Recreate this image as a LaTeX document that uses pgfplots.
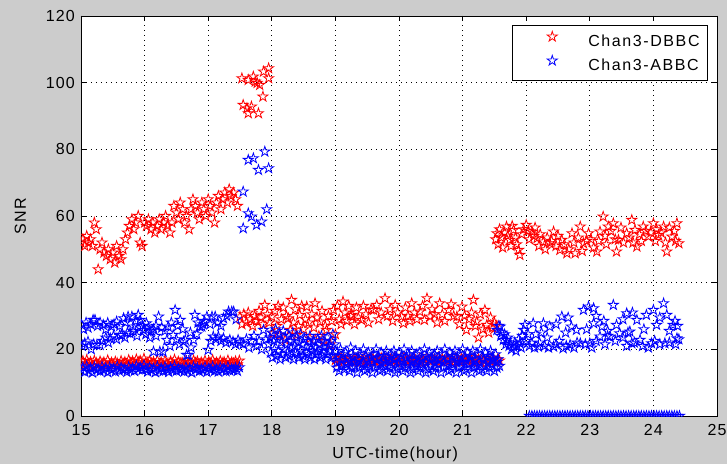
\documentclass[border=0pt]{standalone}
\usepackage{fontspec}
\setmainfont{Liberation Sans}
\newfontfamily\mf[LetterSpace=7]{Liberation Sans}
\newfontfamily\lf[LetterSpace=10]{Liberation Sans}
\newcommand\mfs{\mf\fontsize{16bp}{19bp}\selectfont}
\newcommand\lfs{\lf\fontsize{16bp}{19bp}\selectfont}
\usepackage{pgfplots}
\pgfplotsset{compat=1.18}
\definecolor{figgray}{RGB}{204,204,204}
\pgfdeclareplotmark{pent}{%
  \pgfpathmoveto{\pgfpointpolar{90}{\pgfplotmarksize}}%
  \pgfpathlineto{\pgfpointpolar{126}{0.382*\pgfplotmarksize}}%
  \pgfpathlineto{\pgfpointpolar{162}{\pgfplotmarksize}}%
  \pgfpathlineto{\pgfpointpolar{198}{0.382*\pgfplotmarksize}}%
  \pgfpathlineto{\pgfpointpolar{234}{\pgfplotmarksize}}%
  \pgfpathlineto{\pgfpointpolar{270}{0.382*\pgfplotmarksize}}%
  \pgfpathlineto{\pgfpointpolar{306}{\pgfplotmarksize}}%
  \pgfpathlineto{\pgfpointpolar{342}{0.382*\pgfplotmarksize}}%
  \pgfpathlineto{\pgfpointpolar{18}{\pgfplotmarksize}}%
  \pgfpathlineto{\pgfpointpolar{54}{0.382*\pgfplotmarksize}}%
  \pgfpathclose
  \pgfusepathqstroke
}
\pgfplotsset{
  legimg/.style={legend image code/.code={%
    \path[draw=none,fill=none] (0bp,-2bp) rectangle (68bp,10bp);
    \draw[##1] plot coordinates {(32bp,5.7bp)};}},
}
\begin{document}
\begin{tikzpicture}
\fill[figgray] (-81bp,-48bp) rectangle (646bp,416bp);
\begin{axis}[
  at={(0,0)}, anchor=south west,
  scale only axis, width=636bp, height=400bp,
  xmin=15, xmax=25, ymin=0, ymax=120,
  xtick={15,16,...,25}, ytick={0,20,...,120},
  axis background/.style={fill=white},
  axis line style={black, line width=0.8bp},
  grid=major,
  major grid style={black, line width=0.9bp, dash pattern=on 0.9bp off 4.1bp},
  tick align=inside, tick pos=both, major tick length=5bp,
  every tick/.style={black, line width=0.8bp},
  /pgf/number format/assume math mode=true,
  tick label style={font=\mfs, black},
  xticklabel style={anchor=base, inner sep=0pt, yshift=-19bp},
  yticklabel style={anchor=east, inner sep=0pt, xshift=-6bp},
  every axis x label/.style={at={(axis description cs:0.494,0)}, anchor=base, yshift=-42bp, font=\mfs, black},
  every axis y label/.style={at={(axis description cs:-0.0865,0.5)}, rotate=90, anchor=base, font=\mfs, black},
  xlabel={UTC-time(hour)}, ylabel={SNR},
  clip marker paths=true,
  legend style={at={(1,1)}, anchor=north east, xshift=-9bp, yshift=-9bp,
    draw=black, line width=0.8bp, fill=white, font=\lfs,
    inner xsep=8bp, inner ysep=6bp, row sep=5bp, column sep=0bp,
    nodes={inner sep=0pt, text height=12bp, text depth=4bp}},
  legend cell align=left,
]
\addplot[only marks, mark=pent, mark size=5.3bp, color=red, mark options={line width=0.8bp}, legimg] coordinates {
(15.00,52)(15.03,53)(15.06,51)(15.09,54)(15.12,52)(15.15,53)(15.18,51)(15.21,58)(15.24,56)(15.27,44)(15.30,50)(15.33,52)(15.36,49)(15.40,48)(15.43,50)(15.46,47)(15.50,49)(15.53,46)(15.56,51)(15.60,48)(15.63,47)(15.66,50)(15.70,53)(15.73,55)(15.76,57)(15.80,59)(15.83,56)(15.86,58)(15.90,60)(15.93,52)(15.96,51)(16.00,58)(16.03,57)(16.06,59)(16.10,56)(16.13,58)(16.16,55)(16.20,57)(16.23,59)(16.26,56)(16.30,58)(16.33,60)(16.36,57)(16.40,55)(16.43,58)(16.46,63)(16.50,61)(16.53,59)(16.56,64)(16.60,62)(16.63,58)(16.66,60)(16.70,56)(16.73,62)(16.76,65)(16.80,63)(16.83,61)(16.86,59)(16.90,64)(16.93,62)(16.96,60)(17.00,65)(17.03,63)(17.06,61)(17.10,58)(17.13,64)(17.16,66)(17.20,62)(17.23,65)(17.26,67)(17.30,64)(17.33,68)(17.36,66)(17.40,67)(17.43,65)(17.46,63)
(15.00,15.8)(15.03,16.5)(15.06,15.2)(15.09,16.8)(15.12,15.6)(15.15,16.2)(15.18,15.0)(15.21,16.6)(15.24,15.9)(15.27,15.3)(15.30,16.4)(15.33,15.7)(15.36,16.1)(15.39,15.2)(15.42,16.7)(15.45,15.5)(15.48,16.0)(15.51,15.4)(15.54,16.3)(15.57,15.8)(15.60,15.1)(15.63,16.5)(15.66,15.6)(15.69,16.2)(15.72,15.3)(15.75,16.8)(15.78,15.9)(15.81,16.4)(15.84,15.5)(15.87,17.0)(15.90,16.1)(15.93,16.6)(15.96,15.7)(15.99,17.2)(16.02,16.0)(16.05,15.4)(16.08,16.5)(16.11,15.8)(16.14,16.2)(16.17,15.3)(16.20,16.7)(16.23,15.6)(16.26,16.1)(16.29,15.4)(16.32,16.6)(16.35,15.9)(16.38,15.2)(16.41,16.4)(16.44,15.7)(16.47,16.9)(16.50,15.5)(16.53,16.3)(16.56,15.8)(16.59,16.0)(16.62,15.3)(16.65,16.5)(16.68,15.6)(16.71,16.2)(16.74,15.1)(16.77,16.7)(16.80,15.9)(16.83,16.4)(16.86,15.4)(16.89,16.1)(16.92,15.7)(16.95,16.6)(16.98,15.2)(17.01,16.3)(17.04,15.8)(17.07,16.8)(17.10,15.5)(17.13,16.0)(17.16,15.3)(17.19,16.5)(17.22,15.9)(17.25,16.2)(17.28,15.4)(17.31,16.7)(17.34,15.6)(17.37,16.1)(17.40,15.8)(17.43,16.4)(17.46,15.5)(17.49,16.6)
(17.53,101.3)(17.63,100.8)(17.74,100.3)(17.81,99.3)(17.87,103.3)(17.95,104.3)(17.95,101.3)(17.55,93.3)(17.61,92.3)(17.68,92.8)(17.63,90.8)(17.79,90.8)(17.86,95.8)(17.77,99.9)(17.71,101.8)
(17.50,29.8)(17.53,27.5)(17.56,30.5)(17.60,28.0)(17.63,31.0)(17.66,29.0)(17.70,27.0)(17.73,30.0)(17.76,28.5)(17.80,31.5)(17.83,29.5)(17.86,27.5)(17.89,33.3)(17.93,30.5)(17.96,28.0)(18.00,29.8)(18.02,24.8)(18.05,31.5)(18.08,27.0)(18.10,33.0)(18.13,24.3)(18.15,29.0)(18.18,32.5)(18.21,22.8)(18.23,30.0)(18.26,29.3)(18.29,25.8)(18.31,34.8)(18.34,28.0)(18.37,32.0)(18.39,24.3)(18.42,27.0)(18.44,30.3)(18.47,33.0)(18.50,26.0)(18.53,29.0)(18.55,32.8)(18.58,28.0)(18.60,23.3)(18.63,30.5)(18.66,26.5)(18.68,33.8)(18.71,29.5)(18.74,24.0)(18.76,28.3)(18.79,31.5)(18.82,22.5)(18.84,27.0)(18.86,25.8)(18.89,30.0)(18.92,21.5)(18.94,28.5)(18.97,31.8)(19.00,24.5)(19.03,33.0)(19.06,29.0)(19.09,27.5)(19.12,34.3)(19.15,31.0)(19.18,28.5)(19.21,33.0)(19.24,30.0)(19.26,30.3)(19.30,27.5)(19.33,32.5)(19.36,29.5)(19.41,28.8)(19.44,33.0)(19.48,30.5)(19.52,28.0)(19.56,32.0)(19.60,31.8)(19.65,33.3)(19.68,29.0)(19.72,31.0)(19.78,35.3)(19.82,30.0)(19.86,32.0)(19.90,28.5)(19.94,33.3)(19.98,31.0)(20.04,29.8)(20.07,27.8)(20.10,32.5)(20.14,30.0)(20.17,28.5)(20.20,33.8)(20.24,31.0)(20.28,29.0)(20.33,31.3)(20.37,33.0)(20.40,28.8)(20.44,35.3)(20.49,29.8)(20.52,32.0)(20.56,30.5)(20.60,28.0)(20.64,33.8)(20.68,30.5)(20.72,28.5)(20.78,31.8)(20.82,33.5)(20.86,30.0)(20.91,29.8)(20.95,27.5)(20.99,32.8)(21.03,30.0)(21.06,25.8)(21.10,29.0)(21.14,31.0)(21.17,34.8)(21.20,27.0)(21.22,28.3)(21.25,23.5)(21.28,30.5)(21.32,26.0)(21.35,31.8)(21.38,27.3)(21.41,25.0)(21.44,29.5)(21.47,26.5)(21.50,28.0)(21.53,27.0)
(19.00,16.8)(19.03,17.3)(19.06,16.2)(19.09,17.6)(19.12,16.5)(19.15,17.0)(19.18,16.1)(19.21,17.4)(19.24,16.7)(19.27,16.3)(19.30,17.2)(19.33,16.6)(19.36,17.5)(19.39,16.0)(19.42,16.9)(19.45,17.3)(19.48,16.4)(19.51,17.1)(19.54,16.2)(19.57,17.6)(19.60,16.8)(19.63,16.3)(19.66,17.2)(19.69,16.5)(19.72,17.4)(19.75,16.1)(19.78,16.9)(19.81,17.3)(19.84,16.4)(19.87,17.0)(19.90,16.6)(19.93,17.5)(19.96,16.2)(19.99,16.8)(20.02,17.2)(20.05,16.3)(20.08,17.6)(20.11,16.7)(20.14,16.0)(20.17,17.1)(20.20,16.5)(20.23,17.4)(20.26,16.8)(20.29,16.2)(20.32,17.3)(20.35,16.6)(20.38,17.0)(20.41,16.1)(20.44,17.5)(20.47,16.7)(20.50,16.3)(20.53,17.2)(20.56,16.9)(20.59,16.4)(20.62,17.6)(20.65,16.5)(20.68,17.1)(20.71,16.2)(20.74,16.8)(20.77,17.3)(20.80,16.6)(20.83,17.0)(20.86,16.1)(20.89,17.4)(20.92,16.7)(20.95,16.3)(20.98,17.2)(21.01,16.8)(21.04,17.5)(21.07,16.4)(21.10,16.9)(21.13,17.1)(21.16,16.2)(21.19,17.6)(21.22,16.6)(21.25,17.0)(21.28,16.3)(21.31,17.3)(21.34,16.7)(21.37,16.0)(21.40,17.2)(21.43,16.5)(21.46,17.4)(21.49,16.8)(21.52,16.2)(21.55,17.0)(21.58,16.6)
(21.54,54.8)(21.69,56.8)(21.74,52.8)(21.80,55.8)(21.88,49.8)(21.90,48.3)(22.00,57.3)(22.09,55.3)(22.17,53.3)(22.27,52.3)(22.37,51.8)(22.43,55.3)(22.53,49.8)(22.56,52.8)(22.64,48.8)(22.72,54.8)(22.77,48.8)(22.85,56.8)(22.90,51.8)(22.98,54.8)(23.11,49.3)(23.16,55.3)(23.21,59.8)(23.29,56.8)(23.37,57.8)(23.42,49.3)(23.45,52.8)(23.58,54.8)(23.66,58.8)(23.71,55.8)(23.74,50.8)(23.84,56.8)(23.92,53.8)(24.00,57.8)(24.08,54.3)(24.16,56.8)(24.21,49.3)(24.29,53.8)(24.37,57.8)(24.40,51.8)
(21.52,53.0)(21.56,51.5)(21.58,56.0)(21.61,53.5)(21.63,50.5)(21.66,55.0)(21.71,54.0)(21.76,51.0)(21.78,57.0)(21.83,53.5)(21.85,51.5)(21.93,54.5)(21.96,56.0)(22.03,55.5)(22.05,53.0)(22.12,54.0)(22.14,56.5)(22.20,51.0)(22.22,54.5)(22.30,50.0)(22.33,53.5)(22.40,52.5)(22.47,51.0)(22.50,54.0)(22.60,51.5)(22.67,50.0)(22.75,52.0)(22.82,53.5)(22.88,49.5)(22.95,52.5)(23.02,53.0)(23.06,50.5)(23.14,52.5)(23.24,54.0)(23.26,51.5)(23.33,55.5)(23.40,53.0)(23.49,56.5)(23.53,52.0)(23.62,53.5)(23.68,52.0)(23.78,54.5)(23.81,52.5)(23.88,55.5)(23.96,55.0)(24.03,52.5)(24.05,56.0)(24.12,55.0)(24.19,52.0)(24.25,56.5)(24.33,55.5)(24.35,52.5)
};
\addlegendentry{Chan3-DBBC}
\addplot[only marks, mark=pent, mark size=5.3bp, color=blue, mark options={line width=0.8bp}, legimg] coordinates {
(15.00,13.8)(15.03,14.6)(15.06,13.2)(15.09,14.9)(15.12,13.6)(15.15,14.3)(15.18,13.0)(15.21,14.7)(15.24,13.9)(15.27,14.1)(15.30,13.4)(15.33,14.8)(15.36,13.7)(15.39,14.4)(15.42,13.1)(15.45,14.6)(15.48,13.8)(15.51,14.2)(15.54,13.3)(15.57,14.9)(15.60,13.6)(15.63,14.5)(15.66,13.9)(15.69,14.0)(15.72,13.2)(15.75,14.7)(15.78,13.7)(15.81,14.3)(15.84,13.5)(15.87,15.0)(15.90,14.1)(15.93,14.6)(15.96,13.8)(15.99,15.2)(16.02,14.0)(16.05,13.3)(16.08,14.5)(16.11,13.7)(16.14,14.2)(16.17,13.1)(16.20,14.8)(16.23,13.6)(16.26,14.3)(16.29,13.4)(16.32,14.7)(16.35,13.9)(16.38,13.2)(16.41,14.4)(16.44,13.7)(16.47,14.9)(16.50,13.5)(16.53,14.2)(16.56,13.8)(16.59,14.1)(16.62,13.3)(16.65,14.6)(16.68,13.6)(16.71,14.3)(16.74,13.0)(16.77,14.7)(16.80,13.9)(16.83,14.4)(16.86,13.4)(16.89,14.1)(16.92,13.7)(16.95,14.6)(16.98,13.2)(17.01,14.3)(17.04,13.8)(17.07,14.8)(17.10,13.5)(17.13,14.0)(17.16,13.3)(17.19,14.5)(17.22,13.9)(17.25,14.2)(17.28,13.4)(17.31,14.7)(17.34,13.6)(17.37,14.1)(17.40,13.8)(17.43,14.4)(17.46,13.5)(17.49,14.6)
(15.01,27.3)(15.04,26.0)(15.08,28.0)(15.11,26.5)(15.15,27.5)(15.19,28.8)(15.22,28.8)(15.26,27.0)(15.30,28.0)(15.35,27.3)(15.39,26.0)(15.42,27.9)(15.48,26.8)(15.52,27.5)(15.56,28.3)(15.61,27.0)(15.67,29.3)(15.70,28.0)(15.74,29.8)(15.80,29.8)(15.82,26.8)(15.86,28.5)(15.90,30.3)(15.93,28.8)(15.97,27.0)(16.03,27.8)(16.06,26.5)(16.10,25.5)(16.14,26.0)(16.18,27.0)(16.22,29.8)(16.27,26.5)(16.32,25.5)(16.37,26.8)(16.42,28.0)(16.48,31.8)(16.52,27.0)(16.56,28.8)(16.60,26.0)(16.72,25.0)(16.79,30.3)(16.84,28.0)(16.90,26.8)(16.94,28.5)(16.98,29.8)(17.03,27.5)(17.06,29.8)(17.11,29.8)(17.15,28.0)(17.20,27.0)(17.24,29.3)(17.29,30.0)(17.32,31.3)(17.37,31.3)(17.40,31.3)(17.44,29.0)
(15.02,21.0)(15.06,21.8)(15.11,22.3)(15.16,20.0)(15.20,21.5)(15.25,21.3)(15.30,21.3)(15.34,22.5)(15.39,23.5)(15.43,22.0)(15.46,23.3)(15.51,24.0)(15.56,23.0)(15.61,24.3)(15.64,24.3)(15.69,23.5)(15.73,25.0)(15.77,24.8)(15.82,25.5)(15.88,24.0)(15.93,26.5)(15.98,25.8)(16.02,24.5)(16.08,23.5)(16.14,19.3)(16.18,24.0)(16.24,19.3)(16.29,19.3)(16.35,22.8)(16.40,21.0)(16.45,24.3)(16.50,23.0)(16.55,21.5)(16.61,22.3)(16.64,22.8)(16.66,18.3)(16.69,18.3)(16.73,20.5)(16.77,22.8)(16.82,24.5)(16.87,26.8)(16.92,27.5)(17.00,19.8)(17.04,22.5)(17.08,23.8)(17.12,23.0)(17.16,23.8)(17.20,22.5)(17.24,23.3)(17.28,22.0)(17.34,22.8)(17.39,22.3)(17.43,21.5)(17.47,22.8)
(17.55,67.3)(17.63,76.8)(17.71,77.3)(17.79,73.8)(17.89,79.3)(17.95,74.3)(17.63,60.8)(17.68,59.8)(17.55,56.3)(17.76,57.3)(17.84,58.3)(17.92,62.0)
(17.50,22.0)(17.55,21.5)(17.60,23.0)(17.64,20.5)(17.68,22.5)(17.72,24.0)(17.76,21.0)(17.80,22.5)(17.84,20.0)(17.87,25.8)(17.91,23.0)(17.95,21.5)
(17.97,23.5)(18.00,25.0)(18.03,22.5)(18.06,26.0)(18.09,23.0)(18.12,24.5)(18.15,22.0)(18.18,25.5)(18.21,23.5)(18.24,21.5)(18.27,24.0)(18.30,22.5)(18.33,25.0)(18.36,21.0)(18.39,23.5)(18.42,22.0)(18.45,24.5)(18.48,21.5)(18.51,23.0)(18.54,20.5)(18.57,22.5)(18.60,24.0)(18.63,21.0)(18.66,22.5)(18.69,20.5)(18.72,23.0)(18.75,21.5)(18.78,24.0)(18.81,20.5)(18.84,22.0)(18.87,23.5)(18.90,21.0)(18.93,22.5)(18.96,24.5)(18.99,21.5)
(17.98,19.0)(18.01,17.5)(18.04,20.0)(18.07,18.0)(18.10,19.5)(18.13,17.0)(18.16,18.5)(18.19,20.0)(18.22,17.5)(18.25,19.0)(18.28,18.0)(18.31,20.5)(18.34,17.0)(18.37,19.0)(18.40,18.5)(18.43,17.5)(18.46,19.5)(18.49,18.0)(18.52,17.0)(18.55,19.0)(18.58,18.5)(18.61,17.5)(18.64,19.5)(18.67,17.0)(18.70,18.5)(18.73,19.5)(18.76,17.5)(18.79,18.0)(18.82,19.0)(18.85,17.0)(18.88,18.5)(18.91,19.5)(18.94,17.5)(18.97,18.0)
(19.00,19.5)(19.04,18.0)(19.08,20.0)(19.12,18.5)(19.16,19.0)(19.20,17.5)(19.24,20.5)(19.28,18.0)(19.32,19.5)(19.36,17.0)(19.40,18.5)(19.44,20.0)(19.48,18.0)(19.52,19.0)(19.56,17.5)(19.60,18.5)(19.64,20.0)(19.68,17.5)(19.72,19.0)(19.76,18.0)(19.80,19.5)(19.84,17.0)(19.88,18.5)(19.92,19.5)(19.96,17.5)(20.00,19.0)(20.04,18.0)(20.08,20.0)(20.12,17.5)(20.16,18.5)(20.20,19.5)(20.24,17.0)(20.28,18.5)(20.32,19.0)(20.36,17.5)(20.40,20.0)(20.44,18.0)(20.48,19.0)(20.52,17.5)(20.56,18.5)(20.60,19.5)(20.64,17.0)(20.68,18.5)(20.72,20.0)(20.76,17.5)(20.80,19.0)(20.84,18.0)(20.88,19.5)(20.92,17.5)(20.96,18.5)(21.00,20.0)(21.04,17.5)(21.08,19.0)(21.12,18.0)(21.16,19.5)(21.20,17.0)(21.24,18.5)(21.28,20.0)(21.32,17.5)(21.36,19.0)(21.40,18.0)(21.44,19.5)(21.48,17.5)(21.52,18.5)(21.56,17.0)
(19.02,16.0)(19.09,16.8)(19.16,15.8)(19.23,16.5)(19.30,16.2)(19.37,17.0)(19.44,15.9)(19.51,16.6)(19.58,16.1)(19.65,16.9)(19.72,15.8)(19.79,16.4)(19.86,16.2)(19.93,17.0)(20.00,15.9)(20.07,16.6)(20.14,16.1)(20.21,16.8)(20.28,15.8)(20.35,16.5)(20.42,16.2)(20.49,17.0)(20.56,15.9)(20.63,16.6)(20.70,16.1)(20.77,16.9)(20.84,15.8)(20.91,16.4)(20.98,16.2)(21.05,17.0)(21.12,15.9)(21.19,16.6)(21.26,16.1)(21.33,16.8)(21.40,15.8)(21.47,16.5)(21.54,16.2)
(19.02,14.5)(19.06,13.5)(19.10,15.0)(19.14,14.0)(19.18,15.5)(19.22,13.5)(19.26,14.5)(19.30,15.0)(19.34,13.0)(19.38,14.5)(19.42,15.5)(19.46,13.5)(19.50,14.0)(19.54,15.0)(19.58,13.0)(19.62,14.5)(19.66,15.5)(19.70,13.5)(19.74,14.0)(19.78,15.0)(19.82,13.5)(19.86,14.5)(19.90,15.5)(19.94,13.0)(19.98,14.0)(20.02,15.0)(20.06,13.5)(20.10,14.5)(20.14,15.5)(20.18,13.0)(20.22,14.0)(20.26,15.0)(20.30,13.5)(20.34,14.5)(20.38,15.5)(20.42,13.0)(20.46,14.0)(20.50,15.0)(20.54,13.5)(20.58,14.5)(20.62,15.5)(20.66,13.0)(20.70,14.5)(20.74,15.0)(20.78,13.5)(20.82,14.0)(20.86,15.5)(20.90,13.0)(20.94,14.5)(20.98,15.0)(21.02,13.5)(21.06,14.0)(21.10,15.5)(21.14,13.0)(21.18,14.5)(21.22,15.0)(21.26,13.5)(21.30,14.0)(21.34,15.0)(21.38,13.5)(21.42,14.5)(21.46,15.5)(21.50,13.5)(21.54,14.5)(21.58,15.0)
(21.54,25.8)(21.57,27.0)(21.59,26.8)(21.60,24.0)(21.62,25.0)(21.64,22.8)(21.66,24.5)(21.68,21.5)(21.69,22.8)(21.71,23.5)(21.73,21.0)(21.75,22.0)(21.77,20.0)(21.80,20.8)(21.82,22.0)(21.84,19.5)(21.86,21.0)(21.88,23.0)(21.90,21.8)(21.92,20.5)(21.94,24.0)(21.96,25.8)(21.98,27.3)(22.00,22.5)(22.03,24.5)
(22.11,27.8)(22.09,21.8)(22.27,27.8)(22.19,20.8)(22.37,26.8)(22.43,20.8)(22.56,29.8)(22.58,20.3)(22.71,26.8)(22.79,25.8)(22.69,21.3)(22.90,31.8)(22.98,32.8)(23.06,27.8)(23.00,21.8)(23.19,26.8)(23.16,23.8)(23.37,33.3)(23.42,27.3)(23.58,30.8)(23.63,25.3)(23.66,21.8)(23.74,28.8)(23.89,30.3)(24.00,31.8)(24.16,33.8)(24.05,27.3)(24.21,30.3)(24.31,27.3)(24.37,23.3)(24.18,21.8)(23.97,21.8)(23.79,22.8)(23.47,24.8)(23.32,23.8)(22.85,21.8)
(22.05,21.0)(22.13,20.5)(22.21,22.0)(22.29,21.0)(22.35,20.5)(22.47,21.5)(22.52,22.5)(22.63,21.0)(22.75,20.5)(22.80,22.0)(22.93,21.5)(23.03,20.5)(23.10,22.5)(23.24,21.5)(23.28,24.0)(23.40,22.5)(23.52,23.5)(23.58,21.0)(23.70,22.0)(23.83,21.0)(23.92,20.5)(24.02,22.5)(24.10,21.5)(24.25,22.0)(24.35,21.5)(24.40,23.0)
(22.15,24.5)(22.24,25.0)(22.33,23.5)(22.47,27.5)(22.62,25.0)(22.66,29.5)(22.95,26.0)(23.10,30.0)(23.22,28.5)(23.28,25.5)(23.52,29.0)(23.60,25.0)(23.67,31.0)(23.85,26.0)(24.10,29.5)(24.25,25.5)(24.34,28.5)(24.38,27.0)(23.06,32.3)
(22.05,0)(22.09,0)(22.13,0)(22.17,0)(22.21,0)(22.25,0)(22.29,0)(22.33,0)(22.37,0)(22.41,0)(22.45,0)(22.49,0)(22.53,0)(22.57,0)(22.61,0)(22.65,0)(22.69,0)(22.73,0)(22.77,0)(22.81,0)(22.85,0)(22.89,0)(22.93,0)(22.97,0)(23.01,0)(23.05,0)(23.09,0)(23.13,0)(23.17,0)(23.21,0)(23.25,0)(23.29,0)(23.33,0)(23.37,0)(23.41,0)(23.45,0)(23.49,0)(23.53,0)(23.57,0)(23.61,0)(23.65,0)(23.69,0)(23.73,0)(23.77,0)(23.81,0)(23.85,0)(23.89,0)(23.93,0)(23.97,0)(24.01,0)(24.05,0)(24.09,0)(24.13,0)(24.17,0)(24.21,0)(24.25,0)(24.29,0)(24.33,0)(24.37,0)(24.41,0)
};
\addlegendentry{Chan3-ABBC}
\end{axis}
\pgfresetboundingbox
\useasboundingbox (-81bp,-48bp) rectangle (646bp,416bp);
\end{tikzpicture}
\end{document}
